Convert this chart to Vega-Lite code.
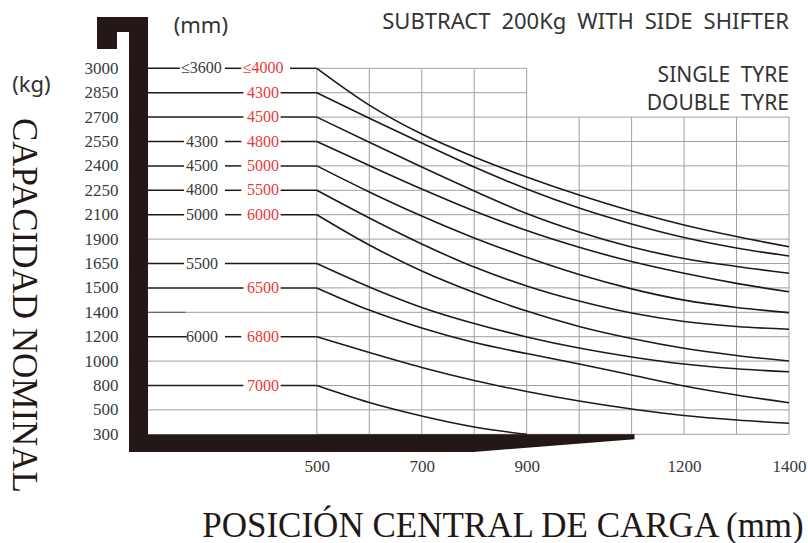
{
  "$schema": "https://vega.github.io/schema/vega-lite/v6.json",
  "width": 660,
  "height": 435,
  "autosize": {"type": "none"},
  "padding": {"left": 129, "top": 17, "right": 19, "bottom": 91},
  "background": "white",
  "config": {"view": {"stroke": null}},
  "datasets": {
    "curves": [
      {"start": 3000, "mm": 500, "kg": 3000}, {"start": 3000, "mm": 600, "kg": 2774}, {"start": 3000, "mm": 700, "kg": 2596}, {"start": 3000, "mm": 800, "kg": 2455}, {"start": 3000, "mm": 900, "kg": 2332}, {"start": 3000, "mm": 1000, "kg": 2221}, {"start": 3000, "mm": 1100, "kg": 2123}, {"start": 3000, "mm": 1200, "kg": 2016}, {"start": 3000, "mm": 1300, "kg": 1921}, {"start": 3000, "mm": 1400, "kg": 1822},
      {"start": 2850, "mm": 500, "kg": 2850}, {"start": 2850, "mm": 600, "kg": 2693}, {"start": 2850, "mm": 700, "kg": 2541}, {"start": 2850, "mm": 800, "kg": 2393}, {"start": 2850, "mm": 900, "kg": 2258}, {"start": 2850, "mm": 1000, "kg": 2141}, {"start": 2850, "mm": 1100, "kg": 2024}, {"start": 2850, "mm": 1200, "kg": 1913}, {"start": 2850, "mm": 1300, "kg": 1809}, {"start": 2850, "mm": 1400, "kg": 1727},
      {"start": 2700, "mm": 500, "kg": 2700}, {"start": 2700, "mm": 600, "kg": 2545}, {"start": 2700, "mm": 700, "kg": 2393}, {"start": 2700, "mm": 800, "kg": 2246}, {"start": 2700, "mm": 900, "kg": 2107}, {"start": 2700, "mm": 1000, "kg": 1958}, {"start": 2700, "mm": 1100, "kg": 1819}, {"start": 2700, "mm": 1200, "kg": 1701}, {"start": 2700, "mm": 1300, "kg": 1632}, {"start": 2700, "mm": 1400, "kg": 1590},
      {"start": 2550, "mm": 500, "kg": 2550}, {"start": 2550, "mm": 600, "kg": 2402}, {"start": 2550, "mm": 700, "kg": 2258}, {"start": 2550, "mm": 800, "kg": 2123}, {"start": 2550, "mm": 900, "kg": 1970}, {"start": 2550, "mm": 1000, "kg": 1816}, {"start": 2550, "mm": 1100, "kg": 1670}, {"start": 2550, "mm": 1200, "kg": 1590}, {"start": 2550, "mm": 1300, "kg": 1528}, {"start": 2550, "mm": 1400, "kg": 1484},
      {"start": 2400, "mm": 500, "kg": 2400}, {"start": 2400, "mm": 600, "kg": 2240}, {"start": 2400, "mm": 700, "kg": 2089}, {"start": 2400, "mm": 800, "kg": 1909}, {"start": 2400, "mm": 900, "kg": 1713}, {"start": 2400, "mm": 1000, "kg": 1582}, {"start": 2400, "mm": 1100, "kg": 1496}, {"start": 2400, "mm": 1200, "kg": 1450}, {"start": 2400, "mm": 1300, "kg": 1420}, {"start": 2400, "mm": 1400, "kg": 1397},
      {"start": 2250, "mm": 500, "kg": 2250}, {"start": 2250, "mm": 600, "kg": 2073}, {"start": 2250, "mm": 700, "kg": 1850}, {"start": 2250, "mm": 800, "kg": 1628}, {"start": 2250, "mm": 900, "kg": 1512}, {"start": 2250, "mm": 1000, "kg": 1446}, {"start": 2250, "mm": 1100, "kg": 1394}, {"start": 2250, "mm": 1200, "kg": 1325}, {"start": 2250, "mm": 1300, "kg": 1284}, {"start": 2250, "mm": 1400, "kg": 1261},
      {"start": 2100, "mm": 500, "kg": 2100}, {"start": 2100, "mm": 600, "kg": 1840}, {"start": 2100, "mm": 700, "kg": 1604}, {"start": 2100, "mm": 800, "kg": 1481}, {"start": 2100, "mm": 900, "kg": 1405}, {"start": 2100, "mm": 1000, "kg": 1284}, {"start": 2100, "mm": 1100, "kg": 1185}, {"start": 2100, "mm": 1200, "kg": 1105}, {"start": 2100, "mm": 1300, "kg": 1046}, {"start": 2100, "mm": 1400, "kg": 1001},
      {"start": 1650, "mm": 500, "kg": 1650}, {"start": 1650, "mm": 600, "kg": 1506}, {"start": 1650, "mm": 700, "kg": 1420}, {"start": 1650, "mm": 800, "kg": 1308}, {"start": 1650, "mm": 900, "kg": 1198}, {"start": 1650, "mm": 1000, "kg": 1107}, {"start": 1650, "mm": 1100, "kg": 1034}, {"start": 1650, "mm": 1200, "kg": 976}, {"start": 1650, "mm": 1300, "kg": 937}, {"start": 1650, "mm": 1400, "kg": 913},
      {"start": 1500, "mm": 500, "kg": 1500}, {"start": 1500, "mm": 600, "kg": 1409}, {"start": 1500, "mm": 700, "kg": 1271}, {"start": 1500, "mm": 800, "kg": 1152}, {"start": 1500, "mm": 900, "kg": 1062}, {"start": 1500, "mm": 1000, "kg": 976}, {"start": 1500, "mm": 1100, "kg": 886}, {"start": 1500, "mm": 1200, "kg": 794}, {"start": 1500, "mm": 1300, "kg": 683}, {"start": 1500, "mm": 1400, "kg": 588},
      {"start": 1200, "mm": 500, "kg": 1200}, {"start": 1200, "mm": 600, "kg": 1070}, {"start": 1200, "mm": 700, "kg": 948}, {"start": 1200, "mm": 800, "kg": 841}, {"start": 1200, "mm": 900, "kg": 726}, {"start": 1200, "mm": 1000, "kg": 609}, {"start": 1200, "mm": 1100, "kg": 511}, {"start": 1200, "mm": 1200, "kg": 454}, {"start": 1200, "mm": 1300, "kg": 417}, {"start": 1200, "mm": 1400, "kg": 390},
      {"start": 800, "mm": 500, "kg": 800}, {"start": 800, "mm": 600, "kg": 591}, {"start": 800, "mm": 700, "kg": 450}, {"start": 800, "mm": 800, "kg": 360}, {"start": 800, "mm": 900, "kg": 300}
    ],
    "hgrid": [
      {"kg": 3000, "mm": 500, "mm2": 900}, {"kg": 2850, "mm": 500, "mm2": 900},
      {"kg": 2700, "mm": 500, "mm2": 1400}, {"kg": 2550, "mm": 500, "mm2": 1400}, {"kg": 2400, "mm": 500, "mm2": 1400}, {"kg": 2250, "mm": 500, "mm2": 1400}, {"kg": 2100, "mm": 500, "mm2": 1400},
      {"kg": 1900, "mm": 178, "mm2": 1400}, {"kg": 1650, "mm": 500, "mm2": 1400}, {"kg": 1500, "mm": 500, "mm2": 1400}, {"kg": 1400, "mm": 178, "mm2": 1400},
      {"kg": 1200, "mm": 500, "mm2": 1400}, {"kg": 1000, "mm": 178, "mm2": 1400}, {"kg": 800, "mm": 500, "mm2": 1400}, {"kg": 500, "mm": 178, "mm2": 1400}, {"kg": 300, "mm": 500, "mm2": 1400}
    ],
    "vgrid": [
      {"mm": 500, "kg": 300, "kg2": 3000}, {"mm": 600, "kg": 300, "kg2": 3000}, {"mm": 700, "kg": 300, "kg2": 3000}, {"mm": 800, "kg": 300, "kg2": 3000}, {"mm": 900, "kg": 300, "kg2": 3000},
      {"mm": 1000, "kg": 300, "kg2": 2700}, {"mm": 1100, "kg": 300, "kg2": 2700}, {"mm": 1200, "kg": 300, "kg2": 2700}, {"mm": 1300, "kg": 300, "kg2": 2700}, {"mm": 1400, "kg": 300, "kg2": 2700}
    ],
    "leads": [
      {"kg": 3000, "mm": 178, "mm2": 239}, {"kg": 3000, "mm": 325, "mm2": 356}, {"kg": 3000, "mm": 449, "mm2": 500},
      {"kg": 2850, "mm": 178, "mm2": 360}, {"kg": 2850, "mm": 431, "mm2": 500},
      {"kg": 2700, "mm": 178, "mm2": 360}, {"kg": 2700, "mm": 431, "mm2": 500},
      {"kg": 2550, "mm": 178, "mm2": 247}, {"kg": 2550, "mm": 325, "mm2": 356}, {"kg": 2550, "mm": 431, "mm2": 500},
      {"kg": 2400, "mm": 178, "mm2": 247}, {"kg": 2400, "mm": 325, "mm2": 356}, {"kg": 2400, "mm": 431, "mm2": 500},
      {"kg": 2250, "mm": 178, "mm2": 247}, {"kg": 2250, "mm": 325, "mm2": 356}, {"kg": 2250, "mm": 431, "mm2": 500},
      {"kg": 2100, "mm": 178, "mm2": 247}, {"kg": 2100, "mm": 325, "mm2": 356}, {"kg": 2100, "mm": 431, "mm2": 500},
      {"kg": 1650, "mm": 178, "mm2": 247}, {"kg": 1650, "mm": 325, "mm2": 500},
      {"kg": 1500, "mm": 178, "mm2": 360}, {"kg": 1500, "mm": 431, "mm2": 500},
      {"kg": 1200, "mm": 178, "mm2": 252}, {"kg": 1200, "mm": 325, "mm2": 356}, {"kg": 1200, "mm": 431, "mm2": 500},
      {"kg": 800, "mm": 178, "mm2": 360}, {"kg": 800, "mm": 431, "mm2": 500}
    ],
    "stub": [
      {"kg": 1400, "mm": 178, "mm2": 250}
    ],
    "heights": [
      {"kg": 3000, "mm": 280, "label": "≤3600", "tyre": "single"}, {"kg": 3000, "mm": 397.5, "label": "≤4000", "tyre": "double"},
      {"kg": 2850, "mm": 397.5, "label": "4300", "tyre": "double"},
      {"kg": 2700, "mm": 397.5, "label": "4500", "tyre": "double"},
      {"kg": 2550, "mm": 281, "label": "4300", "tyre": "single"}, {"kg": 2550, "mm": 397.5, "label": "4800", "tyre": "double"},
      {"kg": 2400, "mm": 281, "label": "4500", "tyre": "single"}, {"kg": 2400, "mm": 397.5, "label": "5000", "tyre": "double"},
      {"kg": 2250, "mm": 281, "label": "4800", "tyre": "single"}, {"kg": 2250, "mm": 397.5, "label": "5500", "tyre": "double"},
      {"kg": 2100, "mm": 281, "label": "5000", "tyre": "single"}, {"kg": 2100, "mm": 397.5, "label": "6000", "tyre": "double"},
      {"kg": 1650, "mm": 281, "label": "5500", "tyre": "single"},
      {"kg": 1500, "mm": 397.5, "label": "6500", "tyre": "double"},
      {"kg": 1200, "mm": 281, "label": "6000", "tyre": "single"}, {"kg": 1200, "mm": 397.5, "label": "6800", "tyre": "double"},
      {"kg": 800, "mm": 397.5, "label": "7000", "tyre": "double"}
    ],
    "fork": [
      {"mm": 81, "mm2": 178.2, "kg": 3500, "kg2": 3354},
      {"mm": 81, "mm2": 119.1, "kg": 3500, "kg2": 3188},
      {"mm": 142, "mm2": 178.2, "kg": 3500, "kg2": 0}
    ],
    "blade": [
      {"mm": 142, "kg": 300, "kg2": 0},
      {"mm": 798.6, "kg": 300, "kg2": 0},
      {"mm": 1105.6, "kg": 300, "kg2": 215}
    ],
    "notes_title": [
      {"mm": 1400, "kg": 3380, "label": "SUBTRACT\u2002200Kg\u2002WITH\u2002SIDE\u2002SHIFTER"}
    ],
    "notes_tyre": [
      {"mm": 1400, "kg": 2913, "label": "SINGLE\u2002TYRE"},
      {"mm": 1400, "kg": 2744, "label": "DOUBLE\u2002TYRE"}
    ],
    "notes_units": [
      {"mm": 279, "kg": 3344, "label": "(mm)"},
      {"mm": -44, "kg": 2856, "label": "(kg)"}
    ]
  },
  "encoding": {
    "x": {
      "field": "mm", "type": "quantitative",
      "scale": {"domain": [142, 1400], "nice": false, "zero": false},
      "axis": {
        "values": [500, 700, 900, 1200, 1400], "format": "d",
        "grid": false, "ticks": false, "tickSize": 0, "domain": false,
        "labelFont": "Liberation Serif", "labelFontSize": 17, "labelColor": "#3a3a3a",
        "labelPadding": 6, "labelFlush": false, "labelOverlap": false,
        "title": "POSICIÓN CENTRAL DE CARGA (mm)",
        "titleFont": "Liberation Serif", "titleFontSize": 35, "titleFontWeight": "normal", "titleColor": "#231815",
        "titleX": 373.5, "titleY": 84, "titleAlign": "center", "titleBaseline": "alphabetic"
      }
    },
    "y": {
      "field": "kg", "type": "quantitative",
      "scale": {
        "type": "linear", "nice": false, "zero": false,
        "domain": [0, 300, 500, 800, 1000, 1200, 1400, 1500, 1650, 1900, 2100, 2250, 2400, 2550, 2700, 2850, 3000, 3500],
        "range": [435, 417.3, 392.9, 368.5, 344.1, 319.7, 295.3, 270.9, 246.5, 222.1, 197.7, 173.3, 148.9, 124.5, 100.1, 75.7, 51.3, 0]
      },
      "axis": {
        "values": [300, 500, 800, 1000, 1200, 1400, 1500, 1650, 1900, 2100, 2250, 2400, 2550, 2700, 2850, 3000], "format": "d",
        "grid": false, "ticks": false, "tickSize": 0, "domain": false,
        "labelFont": "Liberation Serif", "labelFontSize": 17, "labelColor": "#3a3a3a",
        "labelPadding": 11, "labelOverlap": false, "labelBaseline": "middle",
        "title": "CAPACIDAD NOMINAL",
        "titleFont": "Liberation Serif", "titleFontSize": 35, "titleFontWeight": "normal", "titleColor": "#231815",
        "titleAngle": 90, "titleX": -105.5, "titleY": 288, "titleAlign": "center", "titleBaseline": "middle"
      }
    }
  },
  "layer": [
    {
      "data": {"name": "hgrid"},
      "mark": {"type": "rule", "color": "#a0a0a0", "strokeWidth": 1},
      "encoding": {"x2": {"field": "mm2"}}
    },
    {
      "data": {"name": "vgrid"},
      "mark": {"type": "rule", "color": "#a0a0a0", "strokeWidth": 1},
      "encoding": {"y2": {"field": "kg2"}}
    },
    {
      "data": {"name": "fork"},
      "mark": {"type": "rect", "color": "#231815"},
      "encoding": {"x2": {"field": "mm2"}, "y2": {"field": "kg2"}}
    },
    {
      "data": {"name": "blade"},
      "mark": {"type": "area", "color": "#231815", "opacity": 1},
      "encoding": {"y2": {"field": "kg2"}}
    },
    {
      "data": {"name": "leads"},
      "mark": {"type": "rule", "color": "#231815", "strokeWidth": 1.5},
      "encoding": {"x2": {"field": "mm2"}}
    },
    {
      "data": {"name": "stub"},
      "mark": {"type": "rule", "color": "#6a6a6a", "strokeWidth": 1.2},
      "encoding": {"x2": {"field": "mm2"}}
    },
    {
      "data": {"name": "curves"},
      "mark": {"type": "line", "interpolate": "monotone", "color": "#231815", "strokeWidth": 1.6},
      "encoding": {"detail": {"field": "start", "type": "nominal"}}
    },
    {
      "data": {"name": "heights"},
      "mark": {"type": "text", "font": "Liberation Serif", "fontSize": 16, "align": "center", "baseline": "middle"},
      "encoding": {
        "text": {"field": "label"},
        "color": {"field": "tyre", "type": "nominal", "scale": {"domain": ["single", "double"], "range": ["#3a3a3a", "#e83a3a"]}, "legend": null}
      }
    },
    {
      "data": {"name": "notes_title"},
      "mark": {"type": "text", "font": "Noto Sans", "fontSize": 22, "align": "right", "baseline": "alphabetic", "color": "#333333"},
      "encoding": {"text": {"field": "label"}}
    },
    {
      "data": {"name": "notes_tyre"},
      "mark": {"type": "text", "font": "Noto Sans", "fontSize": 21, "align": "right", "baseline": "alphabetic", "color": "#333333"},
      "encoding": {"text": {"field": "label"}}
    },
    {
      "data": {"name": "notes_units"},
      "mark": {"type": "text", "font": "Noto Sans", "fontSize": 22, "align": "center", "baseline": "alphabetic", "color": "#333333"},
      "encoding": {"text": {"field": "label"}}
    }
  ]
}
